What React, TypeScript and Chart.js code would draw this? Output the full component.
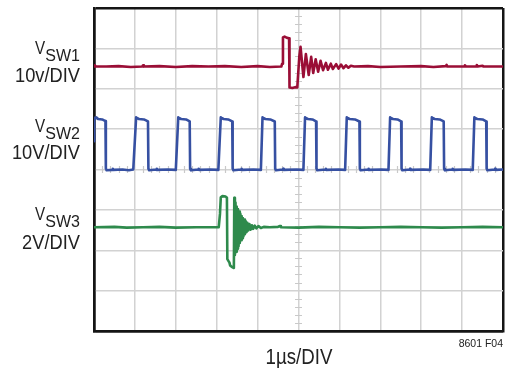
import React, { useEffect, useRef } from "react";
import { Chart, registerables } from "chart.js";

Chart.register(...registerables);

// Axis extents in divisions (1 µs/DIV horizontally)
const xDivisions = 10;
const yDivisions = 8;
const minorPerDivision = 5;

// Trace labels
const traceNames = ["SW1", "SW2", "SW3"];
const traceScales = ["10v/DIV", "10V/DIV", "2V/DIV"];
const timeLabel = "1µs/DIV";
const figureId = "8601 F04";

// VSW1 trace: [time (div), level (div from bottom)]
const sw1Trace: [number, number][] = [
  [0, 6.55], [0.02, 6.58], [0.04, 6.55], [0.3, 6.55], [0.6, 6.56], [0.9, 6.54], [1.18, 6.55], [1.2, 6.58], [1.22, 6.55],
  [1.6, 6.56], [2.0, 6.54], [2.4, 6.56], [2.8, 6.55], [3.2, 6.56], [3.6, 6.54], [4.0, 6.56], [4.3, 6.54], [4.58, 6.55],
  [4.6, 6.62], [4.62, 7.27], [4.66, 7.29], [4.72, 7.26], [4.77, 7.25], [4.78, 6.03], [4.85, 6.02], [4.92, 6.04], [4.97, 6.03],
  [5.02, 6.8], [5.05, 7.04], [5.12, 6.29], [5.18, 6.86], [5.25, 6.34], [5.31, 6.79], [5.36, 6.39], [5.42, 6.73], [5.48, 6.42],
  [5.54, 6.69], [5.6, 6.46], [5.67, 6.64], [5.72, 6.47], [5.79, 6.62], [5.84, 6.49], [5.92, 6.61], [5.98, 6.5], [6.04, 6.6],
  [6.1, 6.51], [6.16, 6.58], [6.22, 6.52], [6.28, 6.57], [6.36, 6.55], [6.7, 6.56], [7.0, 6.54], [7.5, 6.55], [8.0, 6.56],
  [8.3, 6.54], [8.6, 6.56], [8.62, 6.59], [8.64, 6.55], [9.05, 6.55], [9.07, 6.58], [9.09, 6.55], [9.34, 6.55], [9.36, 6.59],
  [9.38, 6.55], [9.5, 6.57], [9.52, 6.55], [10, 6.55],
];

// VSW2 trace
const sw2Trace: [number, number][] = [
  [0, 4.7], [0.005, 5.28], [0.04, 5.27], [0.06, 5.29], [0.1, 5.25], [0.2, 5.24], [0.28, 5.2], [0.29, 4.02], [0.31, 3.98], [0.45, 3.99], [0.46, 4.02], [0.47, 3.99], [0.7, 4.0], [0.85, 3.98], [0.96, 4.0],
  [1.03, 5.29], [1.06, 5.27], [1.1, 5.25], [1.22, 5.24], [1.32, 5.19], [1.33, 4.02], [1.35, 3.98], [1.52, 4.0], [1.53, 4.02], [1.54, 3.99], [1.8, 4.0], [2.0, 3.99],
  [2.06, 5.29], [2.09, 5.27], [2.13, 5.25], [2.25, 5.24], [2.34, 5.19], [2.35, 4.02], [2.37, 3.98], [2.55, 4.0], [2.56, 4.02], [2.57, 3.99], [2.85, 4.0], [3.04, 3.99],
  [3.1, 5.29], [3.13, 5.27], [3.17, 5.25], [3.28, 5.24], [3.38, 5.19], [3.39, 4.02], [3.41, 3.98], [3.6, 4.0], [3.61, 4.02], [3.62, 3.99], [3.9, 4.0], [4.08, 3.99],
  [4.12, 5.29], [4.15, 5.27], [4.19, 5.25], [4.31, 5.24], [4.42, 5.19], [4.43, 4.02], [4.45, 3.98], [4.62, 4.0], [4.63, 4.02], [4.64, 3.99], [4.95, 4.0], [5.12, 3.99],
  [5.16, 5.29], [5.19, 5.27], [5.23, 5.25], [5.34, 5.24], [5.43, 5.19], [5.44, 4.02], [5.46, 3.98], [5.66, 4.0], [5.67, 4.02], [5.68, 3.99], [5.98, 4.0], [6.14, 3.99],
  [6.18, 5.29], [6.21, 5.27], [6.25, 5.25], [6.38, 5.24], [6.49, 5.19], [6.5, 4.02], [6.52, 3.98], [6.7, 4.0], [6.71, 4.02], [6.72, 3.99], [7.02, 4.0], [7.2, 3.99],
  [7.24, 5.29], [7.27, 5.27], [7.31, 5.25], [7.42, 5.24], [7.51, 5.19], [7.52, 4.02], [7.54, 3.98], [7.72, 4.0], [7.73, 4.02], [7.74, 3.99], [8.05, 4.0], [8.22, 3.99],
  [8.26, 5.29], [8.29, 5.27], [8.33, 5.25], [8.45, 5.24], [8.55, 5.19], [8.56, 4.02], [8.58, 3.98], [8.76, 4.0], [8.77, 4.02], [8.78, 3.99], [9.08, 4.0], [9.26, 3.99],
  [9.3, 5.29], [9.33, 5.27], [9.37, 5.25], [9.5, 5.24], [9.59, 5.19], [9.6, 4.02], [9.62, 3.98], [9.8, 4.0], [9.81, 4.02], [9.82, 3.99], [10, 4.0],
];

// VSW3 trace
const sw3Trace: [number, number][] = [
  [0, 2.57], [0.5, 2.58], [0.8, 2.56], [1.2, 2.57], [1.6, 2.58], [2.0, 2.56], [2.5, 2.57], [3.05, 2.57], [3.08, 2.9],
  [3.1, 3.31], [3.14, 3.34], [3.22, 3.33], [3.25, 3.3], [3.26, 1.78], [3.29, 1.73], [3.31, 1.7], [3.33, 1.62], [3.38, 1.58],
  [3.42, 1.56], [3.43, 3.3], [3.445, 1.88], [3.46, 3.18], [3.475, 1.96], [3.49, 3.08], [3.505, 2.04], [3.52, 3.02],
  [3.535, 2.1], [3.55, 2.96], [3.565, 2.18], [3.58, 2.9], [3.595, 2.25], [3.61, 2.85], [3.625, 2.3], [3.64, 2.8],
  [3.655, 2.35], [3.67, 2.76], [3.69, 2.4], [3.71, 2.72], [3.73, 2.45], [3.75, 2.68], [3.77, 2.49], [3.8, 2.65],
  [3.83, 2.51], [3.86, 2.62], [3.89, 2.53], [3.93, 2.61], [3.97, 2.54], [4.02, 2.6], [4.08, 2.55], [4.15, 2.58],
  [4.3, 2.57], [4.5, 2.58], [4.55, 2.6], [4.57, 2.57], [5.0, 2.56], [5.5, 2.58], [6.0, 2.57], [6.5, 2.56], [7.0, 2.57],
  [7.5, 2.58], [8.0, 2.57], [8.5, 2.56], [9.0, 2.57], [9.5, 2.58], [10, 2.57],
];

const traceColors = ["#9a0e36", "#3650a2", "#2e8a4c"];

const labelFont = '"Liberation Sans", Arial, sans-serif';
const textColor = "#222";

function ScaledText(props: {
  text: string;
  right?: number;
  center?: number;
  baseline: number;
  size: number;
  squeeze: number;
}) {
  const { text, right, center, baseline, size, squeeze } = props;
  const boxWidth = 200;
  const left = right !== undefined ? right - boxWidth : (center as number) - boxWidth / 2;
  return (
    <div
      style={{
        position: "absolute",
        left,
        width: boxWidth,
        top: baseline - 0.8465 * size,
        textAlign: right !== undefined ? "right" : "center",
        fontFamily: labelFont,
        fontSize: size,
        lineHeight: `${size}px`,
        color: textColor,
        whiteSpace: "nowrap",
        transform: `scaleX(${squeeze})`,
        transformOrigin: right !== undefined ? "right center" : "center center",
      }}
    >
      {text}
    </div>
  );
}

function TraceLabel(props: { sub: string; scale: string; vBase: number; scaleBase: number }) {
  const subSize = 16;
  const subRight = 80;
  const subWidth = 34.7;
  return (
    <>
      <ScaledText text="V" right={subRight - subWidth} baseline={props.vBase} size={18.5} squeeze={0.82} />
      <ScaledText text={props.sub} right={subRight} baseline={props.vBase + 6.7} size={subSize} squeeze={1} />
      <ScaledText text={props.scale} right={80} baseline={props.scaleBase} size={21} squeeze={0.87} />
    </>
  );
}

export default function App() {
  const ref = useRef<HTMLCanvasElement>(null);

  useEffect(() => {
    if (!ref.current) return;
    const minorTicks = {
      id: "minorTicks",
      beforeDatasetsDraw(chart: any) {
        const { ctx, scales } = chart;
        const xs = scales.x;
        const ys = scales.y;
        const cx = xs.getPixelForValue(xDivisions / 2);
        const cy = ys.getPixelForValue(yDivisions / 2);
        ctx.save();
        ctx.strokeStyle = "#c9c9c9";
        ctx.lineWidth = 1.2;
        ctx.beginPath();
        for (let k = 1; k < yDivisions * minorPerDivision; k++) {
          if (k % minorPerDivision === 0) continue;
          const py = Math.round(ys.getPixelForValue(k / minorPerDivision)) + 0.5;
          ctx.moveTo(cx - 3.5, py);
          ctx.lineTo(cx + 3.5, py);
        }
        for (let k = 1; k < xDivisions * minorPerDivision; k++) {
          if (k % minorPerDivision === 0) continue;
          const px = Math.round(xs.getPixelForValue(k / minorPerDivision)) + 0.5;
          ctx.moveTo(px, cy - 3.5);
          ctx.lineTo(px, cy + 3.5);
        }
        ctx.stroke();
        ctx.restore();
      },
    };

    const traces = [sw1Trace, sw2Trace, sw3Trace];
    const edgeColor = (n: number) => (c: any) =>
      c.index === 0 || c.index === n ? "#151515" : "#d2d2d2";
    const edgeWidth = (n: number) => (c: any) => (c.index === 0 || c.index === n ? 2.5 : 1.5);

    const chart = new Chart(ref.current, {
      type: "scatter",
      data: {
        datasets: traces.map((t, i) => ({
          label: "V" + traceNames[i],
          data: t.map(([x, y]) => ({ x, y })),
          showLine: true,
          borderColor: traceColors[i],
          backgroundColor: traceColors[i],
          borderWidth: 2.6,
          borderJoinStyle: "round",
          borderCapStyle: "round",
          pointRadius: 0,
          tension: 0,
        })),
      },
      options: {
        animation: false,
        responsive: false,
        devicePixelRatio: 1,
        layout: { padding: { left: 94, top: 8, right: 2, bottom: 37 } },
        plugins: { legend: { display: false }, tooltip: { enabled: false } },
        scales: {
          x: {
            type: "linear",
            min: 0,
            max: xDivisions,
            ticks: { display: false, stepSize: 1 },
            grid: { drawTicks: false, color: edgeColor(xDivisions), lineWidth: edgeWidth(xDivisions) },
            border: { display: true, color: "#151515", width: 2.5 },
          },
          y: {
            type: "linear",
            min: 0,
            max: yDivisions,
            ticks: { display: false, stepSize: 1 },
            grid: { drawTicks: false, color: edgeColor(yDivisions), lineWidth: edgeWidth(yDivisions) },
            border: { display: true, color: "#151515", width: 2.5 },
          },
        },
      },
      plugins: [minorTicks],
    } as any);
    return () => chart.destroy();
  }, []);

  return (
    <div style={{ position: "absolute", left: 0, top: 0, width: 505, height: 368, background: "#fff", overflow: "hidden" }}>
      <canvas ref={ref} width={505} height={368} style={{ position: "absolute", left: 0, top: 0 }} />
      <TraceLabel sub={traceNames[0]} scale={traceScales[0]} vBase={55} scaleBase={81.7} />
      <TraceLabel sub={traceNames[1]} scale={traceScales[1]} vBase={133} scaleBase={158.3} />
      <TraceLabel sub={traceNames[2]} scale={traceScales[2]} vBase={220.5} scaleBase={248.3} />
      <ScaledText text={timeLabel} center={298.5} baseline={365} size={21.5} squeeze={0.87} />
      <div
        style={{
          position: "absolute",
          right: 2,
          top: 347.3 - 0.8465 * 10.5,
          fontFamily: labelFont,
          fontSize: 10.5,
          lineHeight: "10.5px",
          color: textColor,
          whiteSpace: "nowrap",
        }}
      >
        {figureId}
      </div>
    </div>
  );
}
